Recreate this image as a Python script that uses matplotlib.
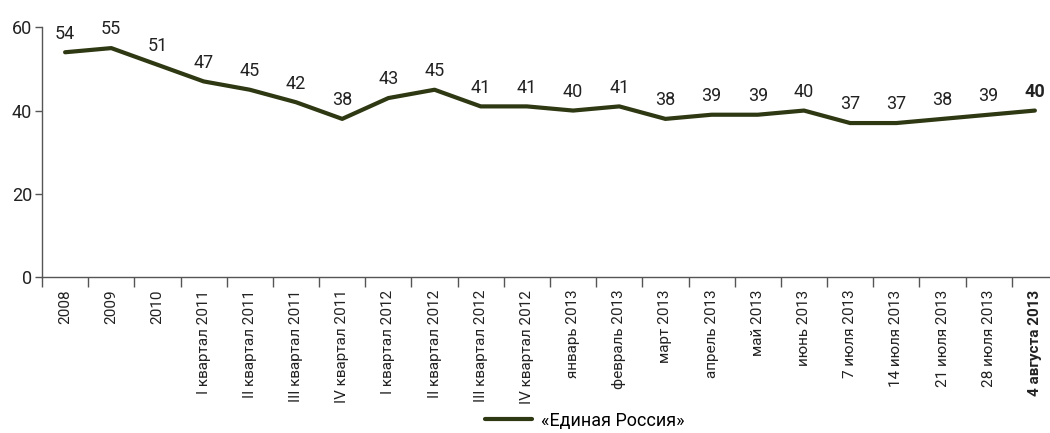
import numpy as np
import matplotlib.pyplot as plt
from matplotlib.ticker import FixedLocator

plt.rcParams['font.family'] = ['Roboto', 'DejaVu Sans']

categories = ['2008', '2009', '2010',
              'I квартал 2011', 'II квартал 2011', 'III квартал 2011', 'IV квартал 2011',
              'I квартал 2012', 'II квартал 2012', 'III квартал 2012', 'IV квартал 2012',
              'январь 2013', 'февраль 2013', 'март 2013', 'апрель 2013', 'май 2013',
              'июнь 2013', '7 июля 2013', '14 июля 2013', '21 июля 2013',
              '28 июля 2013', '4 августа 2013']
values = [54, 55, 51, 47, 45, 42, 38, 43, 45, 41, 41, 40, 41, 38, 39, 39,
          40, 37, 37, 38, 39, 40]
series_name = '«Единая Россия»'

line_color = '#2e3812'
axis_color = '#555555'

fig = plt.figure(figsize=(10.5, 4.33), dpi=100)
ax = fig.add_axes([0.04, 0.36, 0.9676, 0.577])

x = np.arange(len(categories))
ax.plot(x, values, color=line_color, lw=3, solid_capstyle='round',
        solid_joinstyle='round', label=series_name)

for i, v in enumerate(values):
    bold = i == len(values) - 1
    ax.annotate(str(v), (i, v), xytext=(0, 7), textcoords='offset points',
                ha='center', va='bottom', fontsize=13, color='#222222',
                fontweight='bold' if bold else 'normal')

ax.set_xlim(-0.5, len(categories) - 0.5)
ax.set_ylim(0, 60)
ax.set_yticks([0, 20, 40, 60])

ax.set_xticks(x)
ax.set_xticklabels(categories, rotation=90, fontsize=11, color='#222222')
ax.get_xticklabels()[-1].set_fontweight('bold')
ax.tick_params(axis='x', which='major', length=0, pad=9)
ax.xaxis.set_minor_locator(FixedLocator(np.arange(len(categories) + 1) - 0.5))
ax.tick_params(axis='x', which='minor', length=7, width=1, color=axis_color,
               direction='out')
ax.tick_params(axis='y', length=5, width=1, color=axis_color, labelsize=13,
               labelcolor='#222222', pad=2)

for side in ['top', 'right']:
    ax.spines[side].set_visible(False)
for side in ['left', 'bottom']:
    ax.spines[side].set_color(axis_color)
    ax.spines[side].set_linewidth(1)

fig.legend(loc='lower center', bbox_to_anchor=(0.557, -0.03), frameon=False,
           fontsize=13, handlelength=2.6, handletextpad=0.5)

fig.savefig('out.png', dpi=100)
